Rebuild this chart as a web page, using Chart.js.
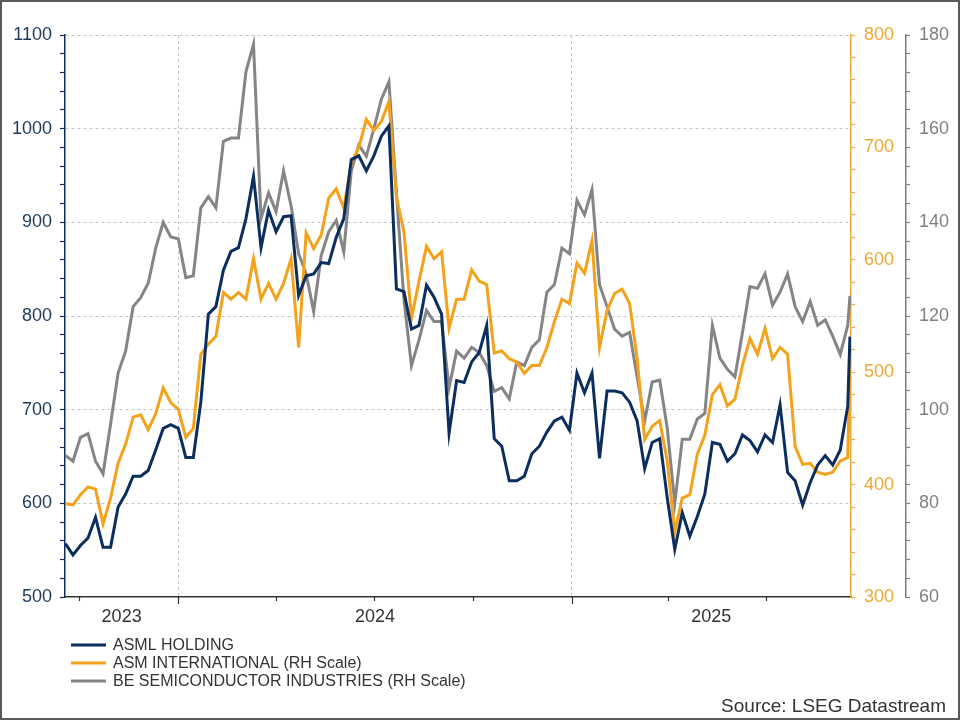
<!DOCTYPE html>
<html>
<head>
<meta charset="utf-8">
<script src="https://cdn.jsdelivr.net/npm/chart.js@4.4.1/dist/chart.umd.min.js"></script>
<style>
    html, body { margin: 0; padding: 0; background: #fff; }
    canvas { display: block; }
</style>
</head>
<body>
<canvas id="grafico" width="960" height="720"></canvas>
<script>
// Fechas semanales (lunes) + último dato
const fechas = [
    '2023-09-18','2023-09-25','2023-10-02','2023-10-09','2023-10-16','2023-10-23','2023-10-30','2023-11-06','2023-11-13','2023-11-20','2023-11-27','2023-12-04','2023-12-11','2023-12-18','2023-12-25',
    '2024-01-01','2024-01-08','2024-01-15','2024-01-22','2024-01-29','2024-02-05','2024-02-12','2024-02-19','2024-02-26','2024-03-04','2024-03-11','2024-03-18','2024-03-25','2024-04-01','2024-04-08','2024-04-15','2024-04-22','2024-04-29','2024-05-06','2024-05-13','2024-05-20','2024-05-27','2024-06-03','2024-06-10','2024-06-17','2024-06-24','2024-07-01','2024-07-08','2024-07-15','2024-07-22','2024-07-29','2024-08-05','2024-08-12','2024-08-19','2024-08-26','2024-09-02','2024-09-09','2024-09-16','2024-09-23','2024-09-30','2024-10-07','2024-10-14','2024-10-21','2024-10-28','2024-11-04','2024-11-11','2024-11-18','2024-11-25','2024-12-02','2024-12-09','2024-12-16','2024-12-23','2024-12-30',
    '2025-01-06','2025-01-13','2025-01-20','2025-01-27','2025-02-03','2025-02-10','2025-02-17','2025-02-24','2025-03-03','2025-03-10','2025-03-17','2025-03-24','2025-03-31','2025-04-07','2025-04-14','2025-04-21','2025-04-28','2025-05-05','2025-05-12','2025-05-19','2025-05-26','2025-06-02','2025-06-09','2025-06-16','2025-06-23','2025-06-30','2025-07-07','2025-07-14','2025-07-21','2025-07-28','2025-08-04','2025-08-11','2025-08-18','2025-08-25','2025-09-01','2025-09-08','2025-09-15','2025-09-17'
];

// ASML (escala izquierda)
const asml = [
    557, 545, 555, 563, 585, 553, 553, 596, 610, 629, 629, 635, 657, 680, 684, 680, 649, 649, 708, 802, 810, 849, 869, 873, 904, 949, 873,
    913, 890, 906, 907, 822, 843, 845, 857, 856, 884, 904, 967, 971, 955, 971, 992, 1003, 829, 826, 786, 790, 833, 820, 802, 675, 731,
    729, 751, 761, 790, 669, 661, 624, 624, 629, 653, 661, 676, 688, 692, 678, 739, 718, 739, 648, 720, 720, 718, 708, 688, 637, 665,
    669, 606, 551, 590, 565, 586, 610, 665, 663, 645, 653, 673, 667, 655, 673, 665, 705, 633, 624, 598, 622, 641, 651, 641, 657, 704, 778
];

// ASM International (escala derecha)
const asmi = [
    383, 382, 391, 398, 396, 365, 388, 419, 436, 460, 462, 449, 463, 486, 473, 467, 442, 450, 516, 525, 532, 571, 565, 571, 565, 601, 565,
    579, 565, 579, 601, 522, 624, 610, 622, 655, 663, 646, 686, 700, 725, 715, 723, 741, 656, 625, 548, 581, 612, 601, 607, 539, 565,
    565, 591, 581, 578, 517, 519, 512, 509, 499, 506, 506, 522, 545, 565, 561, 597, 588, 617, 522, 555, 570, 574, 561, 512, 440, 452,
    457, 421, 358, 388, 391, 427, 444, 480, 489, 470, 476, 506, 530, 516, 539, 512, 522, 516, 434, 418, 419, 411, 409, 411, 421, 424, 505
];

// BE Semiconductor (segunda escala derecha)
const besi = [
    90.2, 89.0, 94.1, 94.9, 89.0, 86.3, 96.9, 107.8, 112.5, 122.0, 123.9, 127.0, 134.5, 140.0, 136.9, 136.5, 128.2, 128.6, 143.1, 145.5, 143.1, 157.3, 158.0, 158.0, 172.2, 178.0, 140.8,
    146.3, 142.3, 151.0, 143.5, 133.3, 129.0, 121.0, 132.9, 138.0, 140.4, 133.7, 151.0, 156.5, 154.1, 160.0, 166.3, 170.0, 146.3, 123.5, 109.4, 114.9, 121.2, 118.8, 118.8, 104.7, 112.5,
    111.0, 113.3, 112.2, 109.4, 103.9, 104.7, 102.3, 110.2, 109.4, 113.3, 114.9, 125.1, 126.7, 134.5, 133.3, 144.7, 141.6, 147.0, 126.7, 122.0, 117.2, 115.7, 116.5, 107.0, 97.6, 105.9,
    106.3, 96.1, 80.0, 93.7, 93.7, 98.0, 99.2, 118.0, 111.0, 108.6, 107.0, 116.5, 126.3, 125.9, 129.0, 122.3, 125.1, 129.0, 122.0, 118.8, 123.1, 118.0, 119.2, 115.7, 111.8, 118.0, 124.3
];

const nombres = ['ASML HOLDING', 'ASM INTERNATIONAL (RH Scale)', 'BE SEMICONDUCTOR INDUSTRIES (RH Scale)'];
const colores = ['#0b2e5e', '#f5a21b', '#858585'];
const coloresEtiqueta = ['#1d3a5c', '#f0a832', '#808080'];

// Ejes
const etiquetasIzq = [500, 600, 700, 800, 900, 1000, 1100];
const etiquetasDer = [300, 400, 500, 600, 700, 800];
const etiquetasDer2 = [60, 80, 100, 120, 140, 160, 180];
const anios = [2023, 2024, 2025];
const trimestres = ['2023-10-01', '2024-01-01', '2024-04-01', '2024-07-01', '2024-10-01', '2025-01-01', '2025-04-01', '2025-07-01'];
const inicioEje = '2023-09-18';
const finEje = '2025-09-18';
const fuente = 'Source: LSEG Datastream';

const familia = '"Liberation Sans", Arial, Helvetica, sans-serif';

// Días desde 1 ene 2024
function dia(fecha) {
    const p = fecha.split('-').map(Number);
    return (Date.UTC(p[0], p[1] - 1, p[2]) - Date.UTC(2024, 0, 1)) / 86400000;
}

function puntos(valores) {
    return valores.map((v, i) => ({ x: dia(fechas[i]), y: v }));
}

// Marcas menores entre etiquetas
function marcas(etiquetas, divisiones) {
    const paso = (etiquetas[1] - etiquetas[0]) / divisiones;
    const res = [];
    const min = etiquetas[0], max = etiquetas[etiquetas.length - 1];
    for (let v = min; v <= max + 1e-9; v += paso) res.push({ value: Math.round(v * 1000) / 1000 });
    return res;
}

function ejeY(etiquetas, divisiones, color, colorTexto, ancho, posicion, peso, conGrid) {
    const mayor = etiquetas[1] - etiquetas[0];
    return {
        type: 'linear',
        position: posicion,
        weight: peso,
        min: etiquetas[0],
        max: etiquetas[etiquetas.length - 1],
        afterBuildTicks: function (eje) { eje.ticks = marcas(etiquetas, divisiones); },
        afterFit: function (eje) { eje.width = ancho; },
        ticks: {
            autoSkip: false,
            color: colorTexto,
            padding: posicion === 'left' ? 8 : 9,
            font: { size: 18, family: familia },
            callback: function (v) { return Math.abs(v % mayor) < 1e-6 ? String(v) : ''; }
        },
        grid: {
            drawOnChartArea: conGrid,
            color: function (c) {
                if (!c.tick) return 'transparent';
                const v = c.tick.value;
                return (Math.abs(v % mayor) < 1e-6 && v > etiquetas[0]) ? '#c2c2c2' : 'transparent';
            },
            lineWidth: 1,
            tickColor: color,
            tickLength: posicion === 'left' ? 5 : 4,
            tickWidth: 1.2
        },
        border: { display: true, color: color, width: 1.5, dash: [3, 3] }
    };
}

// Plugin para marcas de trimestre, años, leyenda, fuente y marco
const extras = {
    id: 'extras',
    afterDraw: function (chart) {
        const ctx = chart.ctx;
        const x = chart.scales.x;
        const area = chart.chartArea;
        ctx.save();

        ctx.strokeStyle = '#333';
        ctx.lineWidth = 1.2;
        trimestres.forEach(function (f) {
            const d = dia(f);
            if (d < x.min || d > x.max) return;
            const px = Math.round(x.getPixelForValue(d)) + 0.5;
            const largo = f.endsWith('-01-01') ? 7 : 4;
            ctx.beginPath();
            ctx.moveTo(px, area.bottom);
            ctx.lineTo(px, area.bottom + largo);
            ctx.stroke();
        });

        ctx.fillStyle = '#333';
        ctx.font = '18px ' + familia;
        ctx.textAlign = 'center';
        ctx.textBaseline = 'middle';
        anios.forEach(function (a) {
            const ini = Math.max(dia(a + '-01-01'), x.min);
            const fin = Math.min(dia((a + 1) + '-01-01'), x.max);
            ctx.fillText(String(a), (x.getPixelForValue(ini) + x.getPixelForValue(fin)) / 2, area.bottom + 20);
        });

        // Leyenda
        ctx.textAlign = 'left';
        ctx.font = '16px ' + familia;
        nombres.forEach(function (n, i) {
            const y = area.bottom + 48 + i * 18;
            ctx.strokeStyle = colores[i];
            ctx.lineWidth = 3;
            ctx.beginPath();
            ctx.moveTo(71, y);
            ctx.lineTo(106, y);
            ctx.stroke();
            ctx.fillStyle = '#333';
            ctx.fillText(n, 113, y + 1);
        });

        // Fuente
        ctx.textAlign = 'right';
        ctx.font = '19px ' + familia;
        ctx.fillText(fuente, 946, 707);

        // Marco
        ctx.strokeStyle = '#5a5a5a';
        ctx.lineWidth = 2;
        ctx.strokeRect(1, 1, 958, 718);
        ctx.restore();
    }
};

const series = [asml, asmi, besi];
const ejes = ['y', 'y1', 'y2'];

new Chart(document.getElementById('grafico'), {
    type: 'line',
    data: {
        datasets: series.map(function (s, i) {
            return {
                label: nombres[i],
                data: puntos(s),
                yAxisID: ejes[i],
                borderColor: colores[i],
                borderWidth: 3,
                pointRadius: 0,
                tension: 0,
                fill: false
            };
        })
    },
    options: {
        responsive: false,
        animation: false,
        devicePixelRatio: 1,
        layout: { padding: { top: 35, bottom: 123, left: 0, right: 0 } },
        plugins: { legend: { display: false }, tooltip: { enabled: false } },
        scales: {
            x: {
                type: 'linear',
                min: dia(inicioEje) - 0.4,
                max: dia(finEje),
                afterBuildTicks: function (eje) {
                    eje.ticks = [{ value: dia('2024-01-01') }, { value: dia('2025-01-01') }];
                },
                ticks: { display: false },
                grid: { color: '#c2c2c2', lineWidth: 1, drawTicks: false },
                border: { display: true, color: '#333', width: 1.5, dash: [3, 3] }
            },
            y: ejeY(etiquetasIzq, 5, colores[0], coloresEtiqueta[0], 65, 'left', 0, true),
            y1: ejeY(etiquetasDer, 5, '#e9a93a', coloresEtiqueta[1], 55, 'right', 0, false),
            y2: ejeY(etiquetasDer2, 5, '#7a7a7a', coloresEtiqueta[2], 54, 'right', 1, false)
        }
    },
    plugins: [extras]
});
</script>
</body>
</html>
